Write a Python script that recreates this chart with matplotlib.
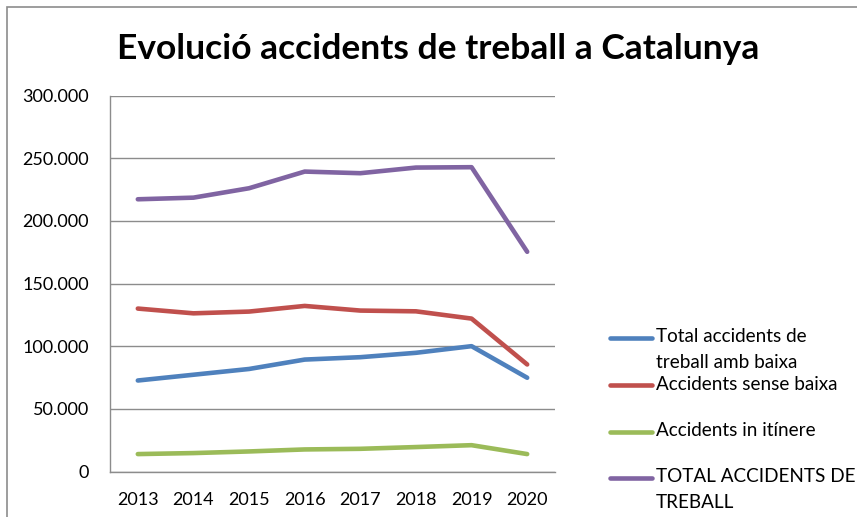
import matplotlib
matplotlib.use("Agg")
import matplotlib.pyplot as plt
from matplotlib.lines import Line2D
from matplotlib.patches import Rectangle
from matplotlib.ticker import FuncFormatter

plt.rcParams['font.family'] = ['Lato', 'DejaVu Sans']

years = ['2013', '2014', '2015', '2016', '2017', '2018', '2019', '2020']
amb_baixa = [72600, 77200, 81800, 89300, 91200, 94700, 100000, 74800]
sense_baixa = [130000, 126200, 127600, 132100, 128400, 127800, 122000, 85400]
in_itinere = [13900, 14700, 16000, 17600, 18100, 19500, 21000, 13900]
total = [217200, 218500, 226000, 239300, 238000, 242500, 242800, 175300]

series = [
    ("Total accidents de\ntreball amb baixa", amb_baixa, "#4F81BD"),
    ("Accidents sense baixa", sense_baixa, "#C0504D"),
    ("Accidents in itínere", in_itinere, "#9BBB59"),
    ("TOTAL ACCIDENTS DE\nTREBALL", total, "#8064A2"),
]
yticks = [0, 50000, 100000, 150000, 200000, 250000, 300000]

W, H = 857, 517
fig = plt.figure(figsize=(W / 100, H / 100), dpi=100)
fig.patch.set_facecolor('white')

# outer chart border (extends past right/bottom edges)
fig.add_artist(Rectangle((7.5 / W, -0.05), 1.2, 1 - 6.5 / H + 0.05,
                         transform=fig.transFigure, fill=False,
                         edgecolor='#8c8c8c', linewidth=1.2))

ax = fig.add_axes([110 / W, 1 - 471.5 / H, (555 - 110) / W, (471.5 - 95.5) / H])
x = list(range(len(years)))
for label, vals, color in series:
    ax.plot(x, vals, color=color, linewidth=3.3, solid_capstyle='round',
            solid_joinstyle='round', zorder=3)

ax.set_xlim(-0.5, len(years) - 0.5)
ax.set_ylim(0, 300000)
ax.set_yticks(yticks)
ax.yaxis.set_major_formatter(FuncFormatter(lambda v, p: '0' if v == 0 else f"{int(v):,}".replace(',', '.')))
ax.set_xticks(x)
ax.set_xticklabels(years)
ax.tick_params(axis='both', length=0, labelsize=13, colors='black')
ax.tick_params(axis='y', pad=15)
ax.tick_params(axis='x', pad=15)
ax.grid(axis='y', color='#8c8c8c', linewidth=1.0)
ax.set_axisbelow(True)
for s in ['top', 'right']:
    ax.spines[s].set_visible(False)
for s in ['left', 'bottom']:
    ax.spines[s].set_color('#8c8c8c')
    ax.spines[s].set_linewidth(1.0)

fig.text(438 / W, 1 - 49 / H, "Evolució accidents de treball a Catalunya",
         ha='center', va='center', fontsize=25.5, fontweight='bold')

# legend
rows = [338, 385, 432, 478]
for (label, vals, color), ry in zip(series, rows):
    yy = 1 - ry / H
    fig.add_artist(Line2D([610 / W, 652 / W], [yy, yy], transform=fig.transFigure,
                          color=color, linewidth=3.3, solid_capstyle='round'))
    fig.text(656 / W, 1 - (ry - 9.5) / H, label, ha='left', va='top',
             fontsize=13.6, linespacing=1.6)

fig.savefig('out.png', dpi=100, facecolor='white')
